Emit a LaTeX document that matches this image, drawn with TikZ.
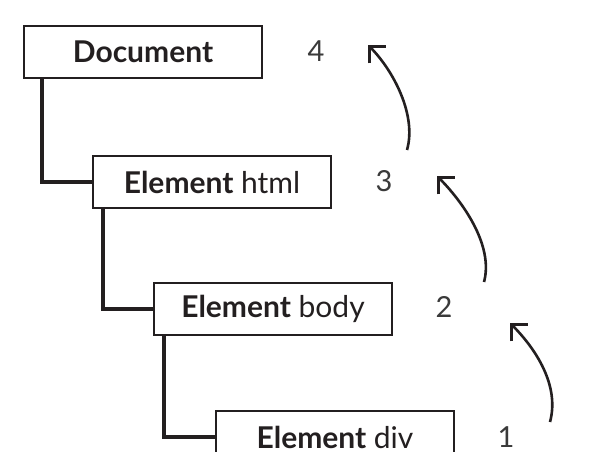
\documentclass[tikz,border=0pt]{standalone}
\usepackage{fontspec}
\setmainfont{Lato}
\usetikzlibrary{arrows.meta}
\definecolor{ink}{HTML}{231F20}
\definecolor{numc}{HTML}{3A3A3A}
\begin{document}
\begin{tikzpicture}[x=1pt,y=-1pt,
  box/.style={draw=ink,line width=2pt,minimum width=238pt,minimum height=52pt,inner sep=0pt,
    font=\fontsize{30}{34}\selectfont,text=ink,anchor=north west},
  num/.style={font=\fontsize{29}{34}\selectfont,text=numc},
  tree/.style={draw=ink,line width=3.2pt},
  up/.style={draw=ink,line width=2.6pt,-{Straight Barb[length=12pt,width=24pt,line width=2.6pt]}}]
\useasboundingbox (0,0) rectangle (594,452);
\clip (0,0) rectangle (594,452);
\node[box] (doc) at (23,25) {\textbf{Document}};
\node[box] (html) at (92,155) {\textbf{Element} html};
\node[box] (body) at (153,282) {\textbf{Element} body};
\node[box] (div) at (215,410) {\textbf{Element} div};
\node[num] (n4) at (316,51) {4};
\node[num] (n3) at (384,181) {3};
\node[num] (n2) at (444,307) {2};
\node[num] (n1) at (506,437) {1};
\draw[tree] ([xshift=19pt]doc.south west) |- (html.west);
\draw[tree] ([xshift=11pt]html.south west) |- (body.west);
\draw[tree] ([xshift=11pt]body.south west) |- (div.west);
\coordinate (a1s) at (407,150); \coordinate (a1t) at (368,45);
\coordinate (a2s) at (484,282); \coordinate (a2t) at (437,176);
\coordinate (a3s) at (550,422); \coordinate (a3t) at (510,323);
\draw[up] (a1s) .. controls (417,115) and (393,70) .. (a1t);
\draw[up] (a2s) .. controls (494,245) and (462,201) .. (a2t);
\draw[up] (a3s) .. controls (560,385) and (535,348) .. (a3t);
\end{tikzpicture}
\end{document}
